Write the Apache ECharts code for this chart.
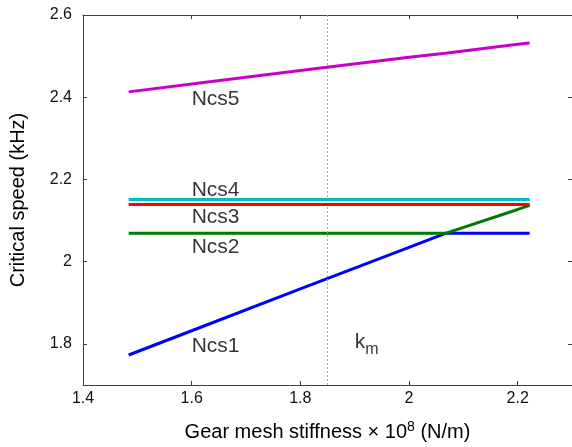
<!DOCTYPE html>
<html><head><meta charset="utf-8">
<script src="https://cdn.jsdelivr.net/npm/echarts@6/dist/echarts.min.js"></script>
<style>html,body{margin:0;padding:0;background:#fff;overflow:hidden}#c{width:572px;height:447px}</style>
</head><body><div id="c"></div>
<script>
const stiffness = [1.484, 1.6, 1.8, 2.0, 2.067, 2.2, 2.222];
const ncs1 = [1.773, 1.832, 1.934, 2.035, 2.069, 2.069, 2.069];
const ncs2 = [2.069, 2.069, 2.069, 2.069, 2.069, 2.127, 2.137];
const ncs3 = [2.139, 2.139, 2.139, 2.139, 2.139, 2.139, 2.139];
const ncs4 = [2.151, 2.151, 2.151, 2.151, 2.151, 2.151, 2.151];
const ncs5 = [2.413, 2.432, 2.465, 2.497, 2.507, 2.529, 2.532];
const seriesNames = ['Ncs1', 'Ncs2', 'Ncs3', 'Ncs4', 'Ncs5'];
const seriesColors = ['#0000ff', '#007a00', '#ff0000', '#00bfbf', '#c800c8'];
const labelX = [1.6, 1.6, 1.6, 1.6, 1.6];
const labelY = [1.795, 2.034, 2.107, 2.175, 2.395];
const kmValue = 1.853;
const kmLabelPos = [1.9, 1.804];
const xTicks = [1.4, 1.6, 1.8, 2, 2.2];
const yTicks = [1.8, 2, 2.2, 2.4, 2.6];

const font = 'Liberation Sans, Arial, sans-serif';
const allY = [ncs1, ncs2, ncs3, ncs4, ncs5];
const axisLineStyle = {color: '#404040', width: 1};
const series = allY.map((ys, i) => ({
  type: 'line', name: seriesNames[i], data: stiffness.map((x, j) => [x, ys[j]]),
  symbol: 'none', lineStyle: {color: seriesColors[i], width: 3}, z: 3 + i, silent: true
}));
series.push({
  type: 'scatter', symbolSize: 0, silent: true,
  data: seriesNames.map((n, i) => ({value: [labelX[i], labelY[i]], name: n})),
  label: {show: true, position: 'right', distance: 0, formatter: p => p.name,
    fontFamily: font, fontSize: 21, color: '#000'},
  markLine: {silent: true, symbol: 'none', label: {show: false},
    lineStyle: {color: '#a8a8a8', type: [2, 2], width: 1},
    data: [{xAxis: kmValue}]}
});
series.push({
  type: 'scatter', symbolSize: 0, silent: true,
  data: [{value: kmLabelPos}],
  label: {show: true, position: 'right', distance: 0, formatter: '{k|k}{m|m}',
    rich: {k: {fontFamily: font, fontSize: 21, color: '#000'},
           m: {fontFamily: font, fontSize: 16, color: '#000', padding: [14, 0, 0, 0]}}}
});

const chart = echarts.init(document.getElementById('c'), null, {renderer: 'canvas'});
chart.setOption({
  animation: false,
  grid: {left: 83, top: 15, width: 491, height: 372, containLabel: false},
  xAxis: [{
    type: 'value', min: 1.4, max: 2.3, position: 'bottom',
    name: 'Gear mesh stiffness \u00d7 10{s|8} (N/m)', nameLocation: 'middle', nameGap: 35,
    nameTextStyle: {fontFamily: font, fontSize: 20, color: '#000',
      rich: {s: {fontSize: 14, verticalAlign: 'top', padding: [0, 0, 10, 0], fontFamily: font, color: '#000'}}},
    axisLine: {show: true, lineStyle: axisLineStyle},
    axisTick: {show: true, inside: true, length: 4, customValues: xTicks, lineStyle: axisLineStyle},
    axisLabel: {customValues: xTicks, fontFamily: font, fontSize: 16, color: '#111', margin: 6},
    splitLine: {show: false}
  }, {
    type: 'value', min: 1.4, max: 2.3, position: 'top',
    axisLine: {show: true, lineStyle: axisLineStyle},
    axisTick: {show: true, inside: true, length: 4, customValues: xTicks, lineStyle: axisLineStyle},
    axisLabel: {show: false}, splitLine: {show: false}
  }],
  yAxis: [{
    type: 'value', min: 1.7, max: 2.6, position: 'left',
    name: 'Critical speed (kHz)', nameLocation: 'middle', nameGap: 55,
    nameTextStyle: {fontFamily: font, fontSize: 20, color: '#000'},
    axisLine: {show: true, lineStyle: axisLineStyle},
    axisTick: {show: true, inside: true, length: 4, customValues: yTicks, lineStyle: axisLineStyle},
    axisLabel: {customValues: yTicks, fontFamily: font, fontSize: 16, color: '#111', margin: 11},
    splitLine: {show: false}
  }, {
    type: 'value', min: 1.7, max: 2.6, position: 'right',
    axisLine: {show: false},
    axisTick: {show: true, inside: true, length: 4, customValues: yTicks, lineStyle: axisLineStyle},
    axisLabel: {show: false}, splitLine: {show: false}
  }],
  series: series
});
</script></body></html>
